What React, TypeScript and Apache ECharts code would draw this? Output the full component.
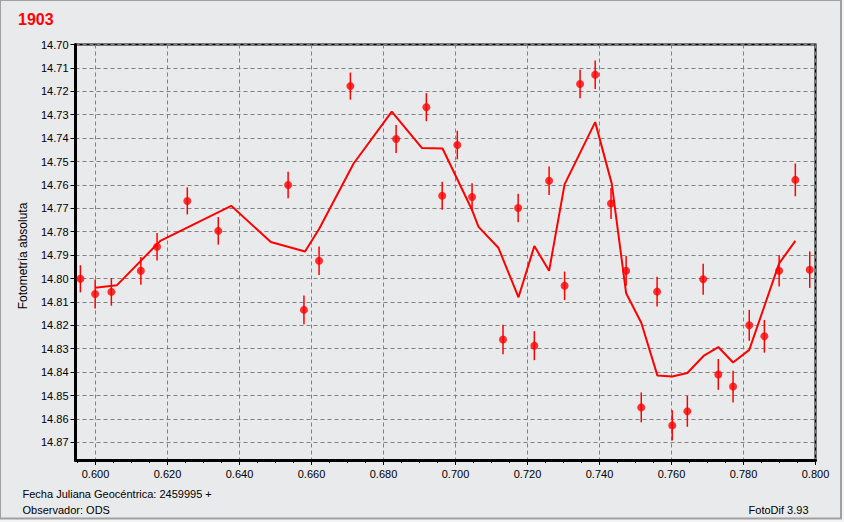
import React, { useEffect, useRef } from "react";
import * as echarts from "echarts";

const TITLE = "1903";
const Y_NAME = "Fotometría absoluta";
const FOOT_LEFT_1 = "Fecha Juliana Geocéntrica: 2459995 +";
const FOOT_LEFT_2 = "Observador: ODS";
const FOOT_RIGHT = "FotoDif 3.93";

const pointX = [
  0.5958, 0.5999, 0.6044, 0.6126, 0.6171, 0.6255, 0.6341, 0.6535, 0.6579, 0.6621,
  0.6708, 0.6835, 0.6919, 0.6963, 0.7005, 0.7046, 0.7132, 0.7174, 0.7219, 0.726,
  0.7303, 0.7346, 0.7388, 0.7432, 0.7474, 0.7516, 0.756, 0.7602, 0.7644, 0.7688,
  0.773, 0.7771, 0.7816, 0.7858, 0.7899, 0.7944, 0.7984,
];
const pointY = [
  14.8002, 14.8067, 14.8058, 14.7968, 14.7865, 14.7669, 14.7797, 14.7601, 14.8135, 14.7925,
  14.7178, 14.7404, 14.7268, 14.7647, 14.743, 14.7652, 14.8262, 14.7699, 14.8288, 14.7583,
  14.8032, 14.7169, 14.7129, 14.768, 14.7968, 14.8552, 14.8057, 14.8629, 14.8569, 14.8004,
  14.8411, 14.8463, 14.8201, 14.8248, 14.7968, 14.7579, 14.7963,
];
const pointErr = [
  0.0058, 0.0062, 0.0059, 0.0059, 0.0059, 0.0058, 0.0059, 0.0057, 0.0061, 0.0061,
  0.0058, 0.006, 0.006, 0.006, 0.0061, 0.0059, 0.0063, 0.0061, 0.0062, 0.0061,
  0.0061, 0.0061, 0.0061, 0.0066, 0.0064, 0.0064, 0.0064, 0.0065, 0.0066, 0.0066,
  0.0066, 0.0068, 0.0066, 0.007, 0.0067, 0.007, 0.0078,
];

const curveX = [
  0.5999, 0.6059, 0.618, 0.6377, 0.6487, 0.6582, 0.6621, 0.6717, 0.6823, 0.6907,
  0.6964, 0.7046, 0.7064, 0.7119, 0.7175, 0.7219, 0.726, 0.7303, 0.7388, 0.7434,
  0.7474, 0.7516, 0.7561, 0.7602, 0.7644, 0.7689, 0.773, 0.7771, 0.7816, 0.7899,
  0.7944,
];
const curveY = [
  14.804, 14.803, 14.784, 14.769, 14.7845, 14.7885, 14.7789, 14.7509, 14.7287, 14.7443,
  14.7445, 14.7708, 14.778, 14.7869, 14.8081, 14.7862, 14.7968, 14.7598, 14.7332, 14.7595,
  14.8064, 14.819, 14.8416, 14.842, 14.8405, 14.8332, 14.8294, 14.836, 14.8306, 14.7936,
  14.784,
];

const X_MIN = 0.59444;
const X_MAX = 0.8;
const Y_MIN = 14.7;
const Y_MAX = 14.8777;
const X_TICK_FIRST = 0.6;
const X_MINOR_FIRST = 0.595;
const Y_TICK_LAST = 14.87;

const FONT = "'Liberation Sans', Arial, Helvetica, sans-serif";
const RED = "#ff0000";

export default function App() {
  const ref = useRef<HTMLDivElement>(null);

  useEffect(() => {
    if (!ref.current) return;
    const chart = echarts.init(ref.current, null, { renderer: "svg" });

    const gridTop = 44.5;
    const gridRight = 28.5;
    const gridBottom = 62;

    const hiddenAxis = (gi: number) => ({
      gridIndex: gi,
      type: "value",
      show: false,
      min: 0,
      max: 1,
    });

    const option: any = {
      animation: false,
      backgroundColor: "#f4f4f4",
      grid: [
        {
          left: 75.5,
          right: gridRight,
          top: gridTop,
          bottom: gridBottom,
          show: true,
          borderColor: "#000",
          borderWidth: 2,
          backgroundColor: "transparent",
        },
        { left: 95.5, right: gridRight, top: gridTop, bottom: gridBottom },
        { left: 77.5, right: gridRight, top: gridTop, bottom: gridBottom },
        { left: 75.5, right: gridRight, top: gridTop, bottom: 79.7 },
      ],
      xAxis: [
        {
          gridIndex: 0,
          type: "value",
          min: X_MIN,
          max: X_MAX,
          axisLine: { show: true, onZero: false, lineStyle: { color: "#000", width: 3 } },
          axisTick: { show: false },
          axisLabel: { show: false },
          splitLine: { show: false },
        },
        {
          gridIndex: 1,
          type: "value",
          min: X_TICK_FIRST,
          max: X_MAX,
          interval: 0.02,
          axisLine: { show: false, onZero: false },
          axisTick: { show: true, length: 5, lineStyle: { color: "#000", width: 1 } },
          axisLabel: {
            show: true,
            margin: 8,
            fontSize: 11,
            fontFamily: FONT,
            color: "#000",
            formatter: (v: number) => v.toFixed(3),
          },
          splitLine: { show: true, lineStyle: { color: "#808080", width: 1, type: [4, 3] } },
        },
        {
          gridIndex: 2,
          type: "value",
          min: X_MINOR_FIRST,
          max: X_MAX,
          interval: 0.005,
          axisLine: { show: false, onZero: false },
          axisTick: { show: true, length: 3, lineStyle: { color: "#000", width: 1 } },
          axisLabel: { show: false },
          splitLine: { show: false },
        },
        hiddenAxis(3),
      ],
      yAxis: [
        {
          gridIndex: 0,
          type: "value",
          inverse: true,
          min: Y_MIN,
          max: Y_MAX,
          axisLine: { show: true, onZero: false, lineStyle: { color: "#000", width: 3 } },
          axisTick: { show: false },
          axisLabel: { show: false },
          splitLine: { show: false },
        },
        hiddenAxis(1),
        hiddenAxis(2),
        {
          gridIndex: 3,
          type: "value",
          inverse: true,
          min: Y_MIN,
          max: Y_TICK_LAST,
          interval: 0.01,
          axisLine: { show: false, onZero: false },
          axisTick: { show: true, length: 5, lineStyle: { color: "#000", width: 1 } },
          axisLabel: {
            show: true,
            margin: 7,
            fontSize: 11,
            fontFamily: FONT,
            color: "#000",
            formatter: (v: number) => v.toFixed(2),
          },
          splitLine: { show: true, lineStyle: { color: "#808080", width: 1, type: [4, 3] } },
        },
      ],
      graphic: [
        {
          type: "rect",
          z: -10,
          silent: true,
          shape: { x: 0, y: 0, width: 841, height: 518.5 },
          style: { fill: "#e9eaec", stroke: "#a0a0a0", lineWidth: 2 },
        },
        {
          type: "text",
          x: 18,
          y: 19.5,
          style: {
            text: TITLE,
            fill: RED,
            fontSize: 16,
            fontWeight: "bold",
            fontFamily: FONT,
            textAlign: "left",
            textVerticalAlign: "middle",
          },
        },
        {
          type: "text",
          x: 22.7,
          y: 256,
          rotation: Math.PI / 2,
          style: {
            text: Y_NAME,
            fill: "#000",
            fontSize: 12,
            fontFamily: FONT,
            textAlign: "center",
            textVerticalAlign: "middle",
          },
        },
        {
          type: "text",
          x: 22.5,
          y: 493.5,
          style: {
            text: FOOT_LEFT_1,
            fill: "#000",
            fontSize: 11,
            fontFamily: FONT,
            textAlign: "left",
            textVerticalAlign: "middle",
          },
        },
        {
          type: "text",
          x: 22.5,
          y: 509.5,
          style: {
            text: FOOT_LEFT_2,
            fill: "#000",
            fontSize: 11,
            fontFamily: FONT,
            textAlign: "left",
            textVerticalAlign: "middle",
          },
        },
        {
          type: "text",
          x: 808.5,
          y: 510,
          style: {
            text: FOOT_RIGHT,
            fill: "#000",
            fontSize: 11,
            fontFamily: FONT,
            textAlign: "right",
            textVerticalAlign: "middle",
          },
        },
      ],
      series: [
        {
          name: "errors",
          type: "custom",
          xAxisIndex: 0,
          yAxisIndex: 0,
          z: 3,
          data: pointX.map((x, i) => [x, pointY[i] - pointErr[i], pointY[i] + pointErr[i]]),
          encode: { x: 0, y: [1, 2] },
          renderItem: (params: any, api: any) => {
            const x = api.value(0);
            const p1 = api.coord([x, api.value(1)]);
            const p2 = api.coord([x, api.value(2)]);
            return {
              type: "line",
              shape: { x1: p1[0], y1: p1[1], x2: p2[0], y2: p2[1] },
              style: { stroke: RED, lineWidth: 1.5 },
            };
          },
        },
        {
          name: "curve",
          type: "line",
          xAxisIndex: 0,
          yAxisIndex: 0,
          z: 3,
          showSymbol: false,
          symbol: "none",
          data: curveX.map((x, i) => [x, curveY[i]]),
          lineStyle: { color: RED, width: 2 },
        },
        {
          name: "points",
          type: "scatter",
          xAxisIndex: 0,
          yAxisIndex: 0,
          z: 4,
          symbol: "circle",
          symbolSize: 8,
          data: pointX.map((x, i) => [x, pointY[i]]),
          itemStyle: { color: RED },
        },
      ],
    };

    chart.setOption(option);
    return () => chart.dispose();
  }, []);

  return (
    <div
      ref={ref}
      style={{ position: "fixed", left: 0, top: 0, width: 844, height: 522 }}
    />
  );
}
